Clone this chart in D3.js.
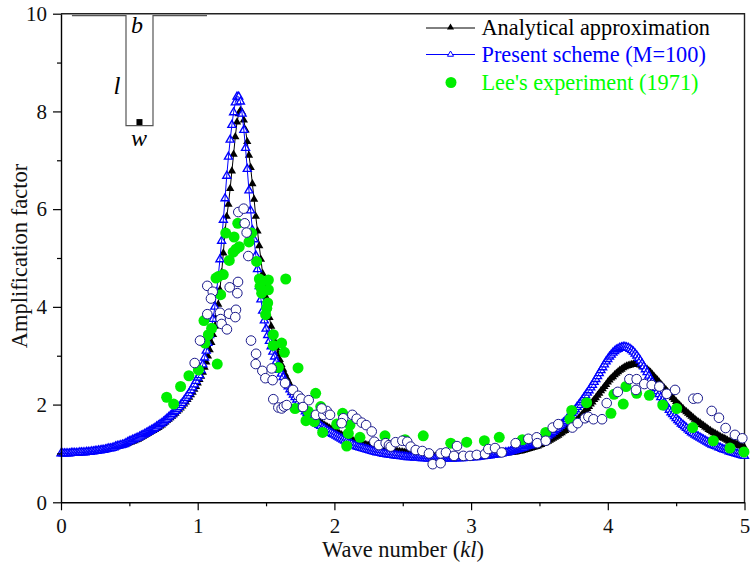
<!DOCTYPE html>
<html>
<head>
<meta charset="utf-8">
<style>
body { margin: 0; background: #fff; }
text { font-family: "Liberation Serif", serif; }
</style>
<script src="https://cdn.jsdelivr.net/npm/d3@7"></script>
</head>
<body>
<svg id="chart" width="750" height="565"></svg>
<script>
// sampling of the two computed curves, wave number kl
var kl_low = [0,0.0125,0.025,0.0375,0.05,0.0625,0.075,0.0875,0.1,0.1125,0.125,0.1375,0.15,0.1625,0.175,0.1875,0.2,0.2125,0.225,0.2375,0.25,0.2625,0.275,0.2875,0.3,0.3125,0.325,0.3375,0.35,0.3625,0.375,0.3875,0.4,0.4125,0.425,0.4375,0.45,0.4625,0.475,0.4875,0.5,0.5125,0.525,0.5375,0.55,0.5625,0.575,0.5875,0.6,0.6125,0.625,0.6375,0.65,0.6625,0.675,0.6875,0.7,0.7125,0.725,0.7375,0.75,0.7625,0.775,0.7875,0.8,0.8125,0.825,0.8375,0.85,0.8625,0.875,0.8875,0.9,0.9125,0.925,0.9375,0.95,0.9625,0.975,0.9875,1];
var kl_peak = [1.0125,1.025,1.0375,1.05,1.0625,1.075,1.0875,1.1,1.1125,1.125,1.1375,1.15,1.1625,1.175,1.1875,1.2,1.2125,1.225,1.2375,1.25,1.2625,1.275,1.2875,1.3,1.3125,1.325,1.3375,1.35,1.3625,1.375,1.3875,1.4,1.4125,1.425,1.4375,1.45,1.4625,1.475,1.4875,1.5,1.5125,1.525,1.5375,1.55,1.5625,1.575,1.5875,1.6];
var kl_high = [1.6125,1.625,1.6375,1.65,1.6625,1.675,1.6875,1.7,1.7125,1.725,1.7375,1.75,1.7625,1.775,1.7875,1.8,1.8125,1.825,1.8375,1.85,1.8625,1.875,1.8875,1.9,1.9125,1.925,1.9375,1.95,1.9625,1.975,1.9875,2,2.0125,2.025,2.0375,2.05,2.0625,2.075,2.0875,2.1,2.1125,2.125,2.1375,2.15,2.1625,2.175,2.1875,2.2,2.2125,2.225,2.2375,2.25,2.2625,2.275,2.2875,2.3,2.3125,2.325,2.3375,2.35,2.3625,2.375,2.3875,2.4,2.4125,2.425,2.4375,2.45,2.4625,2.475,2.4875,2.5,2.5125,2.525,2.5375,2.55,2.5625,2.575,2.5875,2.6,2.6125,2.625,2.6375,2.65,2.6625,2.675,2.6875,2.7,2.7125,2.725,2.7375,2.75,2.7625,2.775,2.7875,2.8,2.8125,2.825,2.8375,2.85,2.8625,2.875,2.8875,2.9,2.9125,2.925,2.9375,2.95,2.9625,2.975,2.9875,3,3.0125,3.025,3.0375,3.05,3.0625,3.075,3.0875,3.1,3.1125,3.125,3.1375,3.15,3.1625,3.175,3.1875,3.2,3.2125,3.225,3.2375,3.25,3.2625,3.275,3.2875,3.3,3.3125,3.325,3.3375,3.35,3.3625,3.375,3.3875,3.4,3.4125,3.425,3.4375,3.45,3.4625,3.475,3.4875,3.5,3.5125,3.525,3.5375,3.55,3.5625,3.575,3.5875,3.6,3.6125,3.625,3.6375,3.65,3.6625,3.675,3.6875,3.7,3.7125,3.725,3.7375,3.75,3.7625,3.775,3.7875,3.8,3.8125,3.825,3.8375,3.85,3.8625,3.875,3.8875,3.9,3.9125,3.925,3.9375,3.95,3.9625,3.975,3.9875,4,4.0125,4.025,4.0375,4.05,4.0625,4.075,4.0875,4.1,4.1125,4.125,4.1375,4.15,4.1625,4.175,4.1875,4.2,4.2125,4.225,4.2375,4.25,4.2625,4.275,4.2875,4.3,4.3125,4.325,4.3375,4.35,4.3625,4.375,4.3875,4.4,4.4125,4.425,4.4375,4.45,4.4625,4.475,4.4875,4.5,4.5125,4.525,4.5375,4.55,4.5625,4.575,4.5875,4.6,4.6125,4.625,4.6375,4.65,4.6625,4.675,4.6875,4.7,4.7125,4.725,4.7375,4.75,4.7625,4.775,4.7875,4.8,4.8125,4.825,4.8375,4.85,4.8625,4.875,4.8875,4.9,4.9125,4.925,4.9375,4.95,4.9625,4.975,4.9875,5];

// Analytical approximation
var analytic_low = [1,1,1,1,1,1,1.01,1.01,1.01,1.01,1.01,1.02,1.02,1.02,1.02,1.03,1.03,1.03,1.04,1.04,1.05,1.05,1.06,1.06,1.07,1.07,1.08,1.09,1.1,1.1,1.11,1.12,1.13,1.14,1.15,1.16,1.17,1.18,1.19,1.2,1.22,1.23,1.25,1.26,1.28,1.29,1.31,1.33,1.35,1.37,1.39,1.41,1.43,1.45,1.47,1.49,1.51,1.53,1.56,1.58,1.61,1.64,1.67,1.7,1.73,1.76,1.79,1.82,1.86,1.89,1.93,1.97,2.01,2.05,2.1,2.15,2.2,2.25,2.31,2.37,2.44];
var analytic_peak = [2.51,2.58,2.66,2.76,2.87,2.99,3.12,3.27,3.43,3.6,3.8,4.05,4.35,4.7,5.1,5.55,5.85,6.1,6.42,6.78,7.12,7.48,7.78,7.95,8.02,7.98,7.82,7.62,7.38,7.1,6.85,6.52,6.2,5.85,5.55,5.25,4.97,4.68,4.42,4.2,3.98,3.78,3.6,3.44,3.3,3.16,3.04,2.92];
var analytic_high = [
    2.82,2.72,2.63,2.55,2.48,2.41,2.34,2.28,2.22,2.17,2.12,2.07,2.02,1.98,1.93,1.89,1.85,1.81,1.77,1.74,
    1.71,1.68,1.65,1.63,1.6,1.58,1.56,1.54,1.52,1.5,1.48,1.46,1.44,1.42,1.4,1.38,1.36,1.34,1.32,1.31,
    1.29,1.28,1.26,1.25,1.23,1.22,1.21,1.2,1.19,1.18,1.17,1.16,1.15,1.14,1.13,1.12,1.11,1.1,1.09,1.09,
    1.08,1.08,1.07,1.07,1.06,1.06,1.05,1.05,1.04,1.04,1.03,1.03,1.02,1.02,1.01,1.01,1,1,0.99,0.99,
    0.98,0.98,0.97,0.97,0.96,0.96,0.95,0.95,0.95,0.95,0.94,0.94,0.94,0.94,0.93,0.93,0.93,0.93,0.93,0.93,
    0.93,0.93,0.93,0.93,0.93,0.93,0.93,0.93,0.93,0.93,0.93,0.94,0.94,0.94,0.94,0.95,0.95,0.95,0.95,0.95,
    0.96,0.96,0.96,0.96,0.97,0.97,0.98,0.98,0.99,0.99,1,1,1.01,1.01,1.02,1.02,1.03,1.03,1.04,1.05,
    1.05,1.06,1.07,1.08,1.09,1.1,1.11,1.12,1.13,1.14,1.15,1.17,1.18,1.2,1.21,1.23,1.25,1.27,1.29,1.31,
    1.33,1.35,1.37,1.4,1.42,1.45,1.47,1.5,1.53,1.56,1.59,1.62,1.65,1.69,1.72,1.76,1.8,1.84,1.88,1.92,
    1.96,2.01,2.05,2.1,2.14,2.19,2.23,2.28,2.32,2.37,2.41,2.46,2.5,2.54,2.57,2.61,2.64,2.67,2.7,2.72,
    2.75,2.77,2.79,2.8,2.81,2.82,2.83,2.83,2.83,2.82,2.81,2.79,2.77,2.75,2.72,2.69,2.66,2.62,2.58,2.54,
    2.5,2.46,2.42,2.38,2.34,2.3,2.26,2.22,2.18,2.14,2.1,2.06,2.02,1.99,1.95,1.92,1.88,1.85,1.82,1.79,
    1.76,1.73,1.7,1.67,1.64,1.62,1.59,1.57,1.54,1.52,1.49,1.47,1.44,1.42,1.4,1.38,1.36,1.34,1.32,1.31,
    1.29,1.27,1.25,1.24,1.22,1.21,1.19,1.18,1.16,1.15,1.13,1.12];

// Present scheme (M=100)
var present_low = [1,1,1,1,1,1,1.01,1.01,1.01,1.01,1.01,1.02,1.02,1.02,1.02,1.03,1.03,1.03,1.04,1.04,1.05,1.05,1.06,1.06,1.07,1.07,1.08,1.09,1.1,1.1,1.11,1.12,1.14,1.15,1.16,1.17,1.18,1.19,1.21,1.23,1.25,1.26,1.28,1.29,1.31,1.32,1.34,1.36,1.38,1.4,1.42,1.44,1.46,1.48,1.5,1.52,1.55,1.57,1.6,1.62,1.65,1.68,1.71,1.74,1.77,1.8,1.84,1.87,1.91,1.95,1.99,2.03,2.08,2.13,2.18,2.23,2.29,2.35,2.41,2.48,2.55];
var present_peak = [2.6,2.7,2.82,2.96,3.1,3.26,3.42,3.55,3.75,4,4.3,4.62,4.97,5.35,5.78,6.22,6.68,7.07,7.42,7.72,7.98,8.18,8.3,8.3,8.2,7.95,7.62,7.25,6.82,6.38,5.97,5.57,5.38,5.05,4.77,4.42,4.15,3.92,3.72,3.55,3.42,3.3,3.19,3.08,2.98,2.88,2.79,2.71];
var present_high = [
    2.63,2.56,2.49,2.43,2.37,2.31,2.25,2.2,2.15,2.1,2.05,2,1.95,1.91,1.86,1.82,1.78,1.74,1.7,1.67,
    1.64,1.61,1.58,1.56,1.53,1.51,1.48,1.46,1.44,1.42,1.4,1.38,1.36,1.34,1.32,1.3,1.28,1.26,1.24,1.22,
    1.2,1.19,1.17,1.16,1.14,1.13,1.12,1.11,1.1,1.09,1.08,1.07,1.06,1.05,1.04,1.03,1.02,1.02,1.01,1,
    0.99,0.99,0.98,0.98,0.97,0.97,0.96,0.96,0.95,0.95,0.94,0.94,0.93,0.93,0.92,0.92,0.92,0.92,0.91,0.91,
    0.91,0.91,0.9,0.9,0.9,0.9,0.89,0.89,0.89,0.89,0.89,0.89,0.89,0.89,0.89,0.89,0.89,0.89,0.89,0.89,
    0.89,0.9,0.9,0.9,0.9,0.9,0.9,0.91,0.91,0.91,0.91,0.92,0.92,0.92,0.92,0.93,0.93,0.94,0.94,0.95,
    0.95,0.96,0.96,0.97,0.97,0.98,0.98,0.99,0.99,1,1.01,1.02,1.02,1.03,1.04,1.05,1.06,1.07,1.08,1.09,
    1.1,1.11,1.12,1.14,1.15,1.16,1.17,1.19,1.2,1.22,1.24,1.26,1.28,1.3,1.32,1.34,1.36,1.39,1.41,1.44,
    1.47,1.5,1.53,1.56,1.59,1.63,1.66,1.7,1.74,1.78,1.82,1.86,1.9,1.95,1.99,2.04,2.09,2.14,2.19,2.24,
    2.29,2.35,2.4,2.46,2.52,2.58,2.64,2.7,2.76,2.82,2.88,2.93,2.98,3.02,3.06,3.09,3.12,3.14,3.16,3.17,
    3.18,3.18,3.17,3.16,3.14,3.11,3.08,3.04,3,2.95,2.9,2.84,2.78,2.72,2.66,2.59,2.52,2.46,2.39,2.33,
    2.27,2.21,2.15,2.09,2.04,1.99,1.94,1.89,1.84,1.8,1.76,1.72,1.68,1.65,1.61,1.58,1.55,1.52,1.49,1.46,
    1.43,1.41,1.38,1.36,1.34,1.32,1.3,1.28,1.26,1.24,1.22,1.2,1.18,1.17,1.15,1.14,1.12,1.11,1.09,1.08,
    1.07,1.06,1.04,1.03,1.02,1.01,1,0.99,0.98,0.97,0.96,0.95];

// open circles, no legend entry
var open_k = [1.297,1.336,1.344,1.358,1.37,1.295,1.234,1.29,1.07,1.11,1.097,1.07,1.163,1.229,1.28,1.275,1.168,1.175,1.214,1.017,0.978,1.39,1.427,1.424,1.473,1.541,1.495,1.548,1.639,1.697,1.736,1.756,1.812,1.553,1.59,1.614,1.631,1.651,1.77,1.865,1.919,1.944,1.968,1.907,2.065,2.053,2.131,2.163,2.2,2.232,2.273,2.292,2.326,2.375,2.399,2.412,2.448,2.497,2.533,2.558,2.595,2.643,2.692,2.719,2.777,2.777,2.816,2.875,2.897,2.943,2.992,3.041,3.102,3.126,3.175,3.224,3.326,3.419,3.48,3.484,3.546,3.597,3.638,3.741,3.78,3.833,3.858,3.895,3.958,3.992,4.073,4.158,4.211,4.206,4.267,4.321,4.377,4.431,4.492,4.626,4.658,4.76,4.813,4.862,4.93,4.984];
var open_amp = [5.94,6.01,5.71,5.52,5.04,4.51,4.4,4.28,4.43,4.31,4.17,3.85,3.88,3.86,3.94,3.79,3.75,3.65,3.54,3.31,2.85,3.31,3.04,2.83,2.69,2.74,2.54,2.5,2.44,2.3,2.18,2.12,2.09,2.11,1.94,1.92,1.96,1.99,1.95,1.79,1.79,1.87,1.79,1.92,1.72,1.62,1.79,1.71,1.63,1.58,1.45,1.24,1.17,1.21,1.17,1.14,1.23,1.26,1.24,1.14,1.07,1.05,1,0.78,0.8,1,1.02,0.95,1.15,0.95,0.95,0.97,0.99,1.09,1.11,1.02,1.21,1.3,1.33,1.21,1.26,1.53,1.6,1.53,1.62,1.72,1.75,1.7,1.7,2.03,2.26,2.52,2.52,2.3,2.42,2.4,2.37,2.22,2.3,2.12,2.13,1.87,1.73,1.52,1.38,1.31];

// Lee's experiment (1971)
var lee_k = [1.293,1.205,1.266,1.395,1.375,1.304,1.28,1.26,1.231,1.431,1.187,1.151,1.134,1.168,1.644,1.451,1.517,1.468,1.456,1.517,1.468,1.512,1.505,1.497,1.046,1.102,1.078,1.053,1.143,1.005,0.936,0.875,0.773,0.824,1.553,1.614,1.553,1.634,1.59,1.734,1.863,1.712,1.9,1.809,1.792,1.853,1.914,2.06,2.017,2.114,2.102,2.09,2.187,2.37,2.517,2.65,2.851,2.968,3.097,3.206,3.375,3.546,3.736,3.723,3.845,4.023,4.113,4.045,4.133,4.211,4.304,4.402,4.504,4.621,4.772,4.894,4.996];
var lee_amp = [5.71,5.51,5.43,5.51,5.33,5.23,5.18,5.12,4.95,4.93,4.66,4.62,4.59,4.25,4.57,4.57,4.55,4.52,4.42,4.35,4.28,4.08,3.97,3.84,3.72,3.56,3.43,3.26,2.83,2.71,2.59,2.37,2.15,2.01,3.43,3.26,3.21,3.07,2.76,2.75,2.23,1.92,1.96,1.86,1.67,1.65,1.43,1.82,1.6,1.58,1.41,1.15,1.33,1.36,1.28,1.36,1.21,1.23,1.26,1.33,1.28,1.43,1.88,1.7,2.04,1.82,2.01,2.21,2.37,2.23,2.19,1.99,1.92,1.53,1.26,1.11,1.03];

var x_major = [0, 1, 2, 3, 4, 5];
var x_minor = [0.5, 1.5, 2.5, 3.5, 4.5];
var y_major = [0, 2, 4, 6, 8, 10];
var y_minor = [1, 3, 5, 7, 9];

// harbour sketch in the corner, in axis units
var basin_x = [0.08, 0.4755, 0.4755, 0.673, 0.673, 1.068];
var basin_y = [9.96, 9.96, 7.71, 7.71, 9.96, 9.96];

var svg = d3.select("#chart");
var x = d3.scaleLinear().domain([0, 5]).range([61, 744.5]);
var y = d3.scaleLinear().domain([0, 10]).range([502.3, 13.7]);

function zip(k, v) {
    return k.map(function (d, i) { return [d, v[i]]; });
}

var analytic = zip(kl_low, analytic_low).concat(zip(kl_peak, analytic_peak), zip(kl_high, analytic_high));
var present = zip(kl_low, present_low).concat(zip(kl_peak, present_peak), zip(kl_high, present_high));
var open_pts = zip(open_k, open_amp);
var lee_pts = zip(lee_k, lee_amp);

var line = d3.line().x(function (d) { return x(d[0]); }).y(function (d) { return y(d[1]); });
var tri_black = d3.symbol().type(d3.symbolTriangle).size(30);
var tri_blue = d3.symbol().type(d3.symbolTriangle).size(28);
var tri_blue_key = d3.symbol().type(d3.symbolTriangle).size(16);

function at(d) { return "translate(" + x(d[0]) + "," + y(d[1]) + ")"; }

// frame
svg.append("path")
    .attr("d", "M" + x(0) + "," + y(10) + "H" + x(5) + "V" + y(0))
    .attr("fill", "none").attr("stroke", "#222").attr("stroke-width", 1.4);

// black curve
svg.append("path").datum(analytic).attr("d", line)
    .attr("fill", "none").attr("stroke", "#000").attr("stroke-width", 1);
svg.selectAll("path.an").data(analytic).enter().append("path")
    .attr("class", "an").attr("d", tri_black).attr("transform", at).attr("fill", "#000");

// blue curve
svg.selectAll("path.pr").data(present).enter().append("path")
    .attr("class", "pr").attr("d", tri_blue).attr("transform", at)
    .attr("fill", "#fff").attr("stroke", "#0000ff").attr("stroke-width", 1.35);
svg.append("path").datum(present).attr("d", line)
    .attr("fill", "none").attr("stroke", "#0000ff").attr("stroke-width", 1);

// experiments
svg.selectAll("circle.lee").data(lee_pts).enter().append("circle")
    .attr("class", "lee").attr("cx", function (d) { return x(d[0]); }).attr("cy", function (d) { return y(d[1]); })
    .attr("r", 5.5).attr("fill", "#00ee00");
svg.selectAll("circle.open").data(open_pts).enter().append("circle")
    .attr("class", "open").attr("cx", function (d) { return x(d[0]); }).attr("cy", function (d) { return y(d[1]); })
    .attr("r", 4.8).attr("fill", "#fff").attr("stroke", "#1a1a8c").attr("stroke-width", 1);

// axes
function styleAxis(g, size) {
    g.select(".domain").attr("stroke", "#000").attr("stroke-width", 1.4);
    g.selectAll(".tick line").attr("stroke", "#000").attr("stroke-width", 1.2);
    g.selectAll(".tick text").attr("font-family", "Liberation Serif").attr("font-size", size).attr("fill", "#111");
}
var gx = svg.append("g").attr("transform", "translate(0," + y(0) + ")")
    .call(d3.axisBottom(x).tickValues(x_major).tickSize(8).tickSizeOuter(0).tickPadding(8).tickFormat(d3.format("d")));
styleAxis(gx, 21);
var gy = svg.append("g").attr("transform", "translate(" + x(0) + ",0)")
    .call(d3.axisLeft(y).tickValues(y_major).tickSize(8).tickSizeOuter(0).tickPadding(6).tickFormat(d3.format("d")));
styleAxis(gy, 21);
svg.append("g").attr("transform", "translate(0," + y(0) + ")")
    .call(d3.axisBottom(x).tickValues(x_minor).tickSize(4).tickFormat(""))
    .call(function (g) { styleAxis(g, 0); g.select(".domain").remove(); });
svg.append("g").attr("transform", "translate(" + x(0) + ",0)")
    .call(d3.axisLeft(y).tickValues(y_minor).tickSize(4).tickFormat(""))
    .call(function (g) { styleAxis(g, 0); g.select(".domain").remove(); });

// axis titles
var xt = svg.append("text").attr("x", 403).attr("y", 557).attr("text-anchor", "middle")
    .attr("font-size", 22.5).attr("fill", "#111").text("Wave number (");
xt.append("tspan").attr("font-style", "italic").text("kl");
xt.append("tspan").text(")");
svg.append("text").attr("transform", "translate(27,256) rotate(-90)").attr("text-anchor", "middle")
    .attr("font-size", 22.5).attr("fill", "#111").text("Amplification factor");

// sketch
svg.append("path").datum(d3.zip(basin_x, basin_y)).attr("d", line)
    .attr("fill", "none").attr("stroke", "#555").attr("stroke-width", 1.2);
svg.append("rect").attr("x", x(0.574) - 3).attr("y", y(7.71) - 6.5).attr("width", 6).attr("height", 6).attr("fill", "#000");
svg.append("text").attr("x", 137).attr("y", 33).attr("text-anchor", "middle").attr("font-size", 24).attr("font-style", "italic").text("b");
svg.append("text").attr("x", 117).attr("y", 94).attr("text-anchor", "middle").attr("font-size", 25).attr("font-style", "italic").text("l");
svg.append("text").attr("x", 139).attr("y", 146).attr("text-anchor", "middle").attr("font-size", 24).attr("font-style", "italic").text("w");

// legend
var legend_labels = ["Analytical approximation", "Present scheme (M=100)", "Lee's experiment (1971)"];
var legend_colors = ["#000", "#0000ff", "#00ff00"];
var legend_y = [28, 54.5, 82.5];
legend_labels.forEach(function (t, i) {
    svg.append("text").attr("x", 481.5).attr("y", legend_y[i] + 7).attr("font-size", 22.3)
        .attr("fill", legend_colors[i]).text(t);
});
svg.append("line").attr("x1", 426).attr("x2", 475).attr("y1", 28).attr("y2", 28).attr("stroke", "#000");
svg.append("path").attr("d", d3.symbol().type(d3.symbolTriangle).size(22)).attr("transform", "translate(450.5,27.5)").attr("fill", "#000");
svg.append("line").attr("x1", 426).attr("x2", 475).attr("y1", 54.5).attr("y2", 54.5).attr("stroke", "#0000ff");
svg.append("path").attr("d", tri_blue_key).attr("transform", "translate(450.5,54.5)").attr("fill", "#fff").attr("stroke", "#0000ff");
svg.append("circle").attr("cx", 451).attr("cy", 82.5).attr("r", 5.5).attr("fill", "#00ee00");
</script>
</body>
</html>
